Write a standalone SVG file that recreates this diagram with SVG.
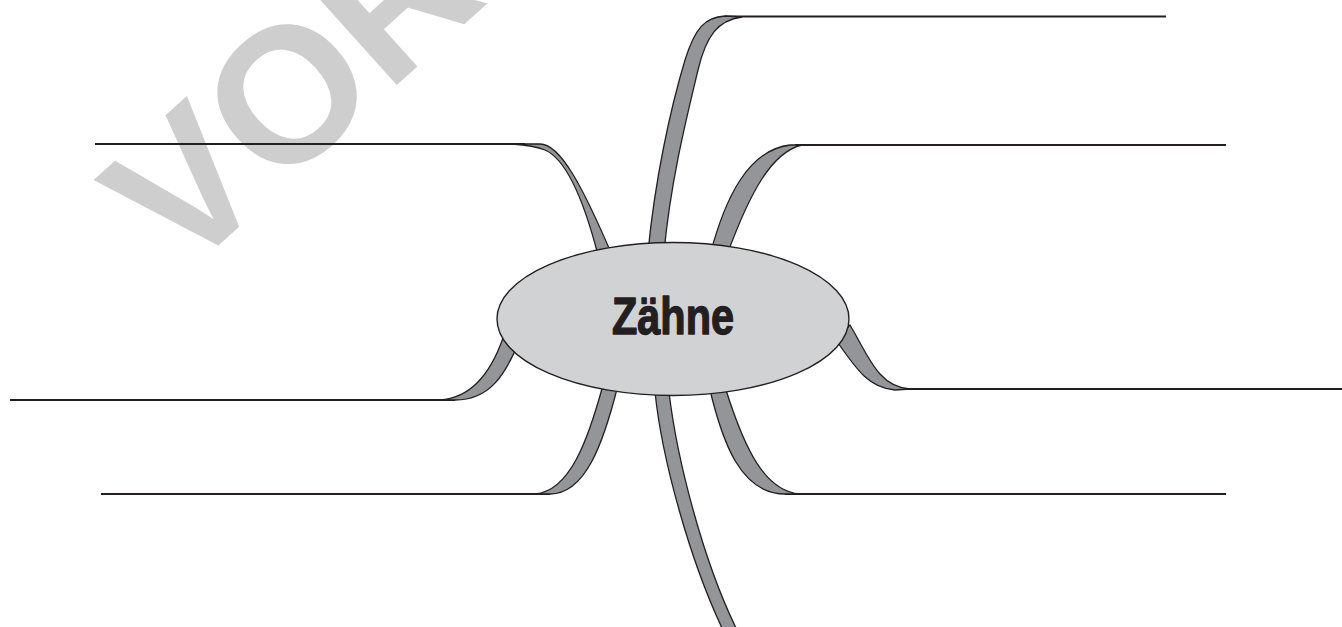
<svg xmlns="http://www.w3.org/2000/svg" width="1342" height="627" viewBox="0 0 1342 627">
  <style>
    .wm { font-family: "Liberation Sans", Arial, sans-serif; font-weight: bold; fill: #cecece; }
    .rib { fill: #939598; stroke: #231f20; stroke-width: 1.3; stroke-linejoin: round; }
    .line { fill: none; stroke: #231f20; stroke-width: 2; }
    .hub { fill: #d1d2d4; stroke: #231f20; stroke-width: 1.4; }
    .title { font-family: "Liberation Sans", Arial, sans-serif; font-weight: bold; fill: #231f20; stroke: #231f20; stroke-width: 1.4; stroke-linejoin: round; }
  </style>
  <rect width="1342" height="627" fill="#ffffff"/>
  <text class="wm" x="181" y="279" font-size="192" transform="rotate(-42 181 279)">VORSCHAU</text>

  <g id="branch-lines">
    <g id="line-upper-left"><path class="line" d="M95,144 L525,144"/></g>
    <g id="line-top"><path class="line" d="M725,16.5 L1166,16.5"/></g>
    <g id="line-upper-right"><path class="line" d="M795,145 L1226,145"/></g>
    <g id="line-right"><path class="line" d="M905,389 L1342,389"/></g>
    <g id="line-left"><path class="line" d="M10,400 L455,400"/></g>
    <g id="line-lower-left"><path class="line" d="M101,494 L550,494"/></g>
    <g id="line-lower-right"><path class="line" d="M785,494 L1226,494"/></g>
  </g>

  <g id="connectors">
    <path class="rib" d="M512,144 L540,144 C560,144 582,185 612,255 L598,255 C585,205 568,160 545,150 C535,146 525,145 512,144 Z"/>
    <path class="rib" d="M648,252 C655,180 670,110 685,60 C695,28 705,17 725,16 L742,17 C718,20 706,36 698,70 C686,120 671,180 664,252 Z"/>
    <path class="rib" d="M710,255 C725,198 748,150 790,145 L802,145 C772,152 750,192 727,255 Z"/>
    <path class="rib" d="M850,325 C868,355 878,387 910,389 L895,390 C870,388 858,372 836,340 Z"/>
    <path class="rib" d="M520,340 C505,375 490,400 455,400 L440,400 C470,398 490,375 503,338 Z"/>
    <path class="rib" d="M618,385 C603,445 585,494 550,494 L535,494 C570,491 588,440 603,385 Z"/>
    <path class="rib" d="M655,392 C662,460 690,560 722,628 L736,628 C703,560 677,460 669,392 Z"/>
    <path class="rib" d="M710,390 C722,440 740,494 785,494 L800,494 C765,491 745,450 726,390 Z"/>
  </g>

  <g id="center-node">
    <ellipse class="hub" cx="673" cy="319" rx="176" ry="76.5"/>
    <text class="title" x="612" y="334" font-size="52" textLength="122" lengthAdjust="spacingAndGlyphs">Zähne</text>
  </g>
</svg>
